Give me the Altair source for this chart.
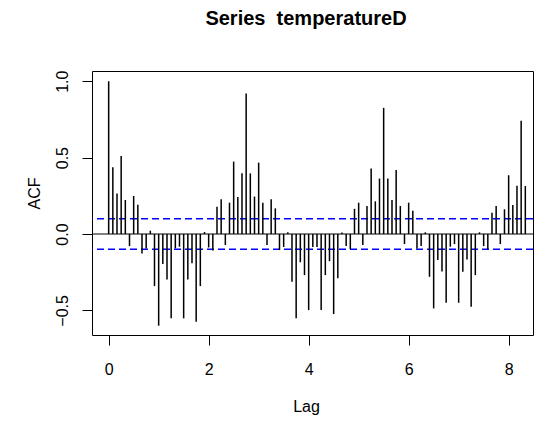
import altair as alt
import pandas as pd

# Lag index (frequency 12 -> lags in units of 1/12)
lag_index = list(range(101))
acf_values = [
    1.000, 0.437, 0.266, 0.511, 0.223, -0.079, 0.249, 0.192, -0.127, -0.094,
    0.022, -0.341, -0.600, -0.196, -0.297, -0.552, -0.094, -0.083, -0.552, -0.297,
    -0.192, -0.574, -0.341, 0.013, -0.088, -0.108, 0.179, 0.227, -0.072, 0.205,
    0.474, 0.242, 0.397, 0.919, 0.397, 0.245, 0.467, 0.205, -0.072, 0.227,
    0.168, -0.105, -0.085, 0.012, -0.312, -0.552, -0.185, -0.269, -0.498, -0.085,
    -0.085, -0.498, -0.269, -0.178, -0.524, -0.290, 0.010, -0.079, -0.100, 0.165,
    0.205, -0.072, 0.183, 0.429, 0.214, 0.363, 0.826, 0.363, 0.223, 0.419,
    0.183, -0.066, 0.205, 0.153, -0.094, -0.079, 0.011, -0.280, -0.487, -0.170,
    -0.245, -0.450, -0.083, -0.066, -0.450, -0.247, -0.166, -0.476, -0.269, 0.011,
    -0.079, -0.100, 0.140, 0.183, -0.066, 0.162, 0.385, 0.190, 0.316, 0.742,
    0.314,
]
conf_limits = [0.1, -0.1]
zero_line = [0.0]
x_ticks = [0, 2, 4, 6, 8]
y_ticks = [-0.5, 0.0, 0.5, 1.0]

df = pd.DataFrame({"lag": [k / 12 for k in lag_index], "acf": acf_values, "base": 0.0})
df_ci = pd.DataFrame({"acf": conf_limits})
df_zero = pd.DataFrame({"acf": zero_line})

FONT = "Liberation Sans"
x_scale = alt.Scale(domain=[-1 / 3, 8.487], nice=False, zero=False)
y_scale = alt.Scale(domain=[-0.661, 1.067], nice=False, zero=False)
x_axis = alt.Axis(values=x_ticks, format="d", title="Lag", labelPadding=16,
                  titleX=214, titleY=76, titleAlign="center", titleBaseline="alphabetic",
                  labelFlush=False)
y_axis = alt.Axis(values=y_ticks, format=".1f", title="ACF", labelAngle=270,
                  labelAlign="center", labelBaseline="bottom", labelPadding=12,
                  titleX=-53, titleY=122, titleAngle=270, titleAlign="center",
                  titleBaseline="alphabetic", labelFlush=False)

spikes = alt.Chart(df).mark_rule(color="black", strokeWidth=1.5).encode(
    x=alt.X("lag:Q", scale=x_scale, axis=x_axis),
    y=alt.Y("acf:Q", scale=y_scale, axis=y_axis),
    y2=alt.Y2("base:Q"),
)

zero = alt.Chart(df_zero).mark_rule(color="black", strokeWidth=1).encode(
    y=alt.Y("acf:Q", scale=y_scale, axis=y_axis),
)

ci = alt.Chart(df_ci).mark_rule(color="#0000ff", strokeWidth=1.5, strokeDash=[7, 4]).encode(
    y=alt.Y("acf:Q", scale=y_scale, axis=y_axis),
)

chart = alt.layer(zero, ci, spikes).properties(
    width=441,
    height=264,
    autosize=alt.AutoSizeParams(type="none"),
    padding={"left": 84, "top": 63, "right": 1, "bottom": 80},
    title=alt.Title("Series\u00a0 temperatureD", font=FONT, fontSize=20, fontWeight="bold",
                    anchor="middle", frame="group", dx=-6.5, offset=25,
                    baseline="alphabetic", color="black"),
).configure(background="white").configure_view(
    stroke="black", strokeWidth=1
).configure_axis(
    grid=False, domain=False, tickColor="black", tickSize=10, tickWidth=1,
    labelFont=FONT, labelFontSize=16, labelColor="black",
    titleFont=FONT, titleFontSize=16, titleFontWeight="normal", titleColor="black",
)

chart.save("out.html", embed_options={"renderer": "svg", "actions": False})
